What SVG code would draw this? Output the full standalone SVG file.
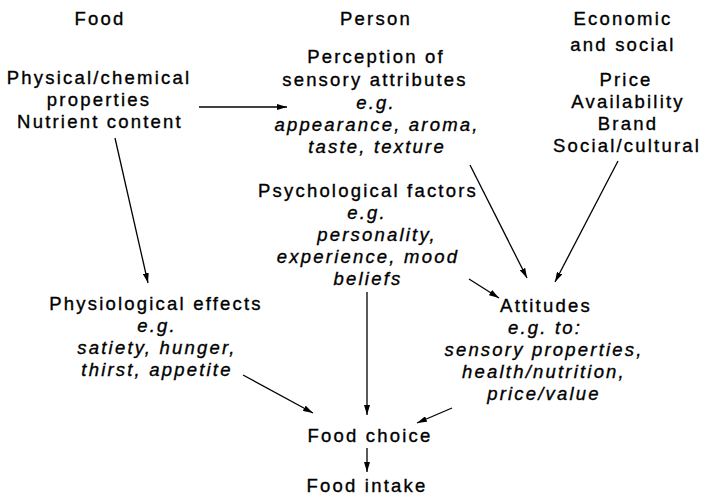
<svg xmlns="http://www.w3.org/2000/svg" width="704" height="497" viewBox="0 0 704 497">
<defs>
<marker id="ah" viewBox="0 0 10 6" refX="10" refY="3" markerWidth="10" markerHeight="6" markerUnits="userSpaceOnUse" orient="auto">
<path d="M0,0 L10,3 L0,6 z" fill="#000"/>
</marker>
<style>
text{font-family:"Liberation Sans",Arial,Helvetica,sans-serif;font-size:18.5px;letter-spacing:2.2px;fill:#000;stroke:#000;stroke-width:0.35px;text-anchor:middle}
.i{font-style:italic}
.c line{stroke:#000;stroke-width:1.3;marker-end:url(#ah)}
</style>
</defs>
<rect width="704" height="497" fill="#fff"/>
<g id="hdr-food"><text x="100" y="25">Food</text></g>
<g id="hdr-person"><text x="376" y="25">Person</text></g>
<g id="hdr-econ"><text x="623" y="25">Economic</text><text x="623" y="51">and social</text></g>
<g id="food-props">
<text x="99" y="84">Physical/chemical</text>
<text x="99" y="106">properties</text>
<text x="100" y="128">Nutrient content</text>
</g>
<g id="perception">
<text x="376" y="63">Perception of</text>
<text x="375" y="86">sensory attributes</text>
<text x="376" y="109" class="i">e.g.</text>
<text x="377" y="131" class="i">appearance, aroma,</text>
<text x="377" y="153" class="i">taste, texture</text>
</g>
<g id="econ-factors">
<text x="626" y="86">Price</text>
<text x="628" y="108">Availability</text>
<text x="628" y="130">Brand</text>
<text x="627" y="152">Social/cultural</text>
</g>
<g id="psych">
<text x="368" y="197">Psychological factors</text>
<text x="367" y="219" class="i">e.g.</text>
<text x="377" y="241" class="i">personality,</text>
<text x="368" y="263" class="i">experience, mood</text>
<text x="368" y="285" class="i">beliefs</text>
</g>
<g id="physio">
<text x="156" y="310">Physiological effects</text>
<text x="157" y="332" class="i">e.g.</text>
<text x="157" y="354" class="i">satiety, hunger,</text>
<text x="157" y="376" class="i">thirst, appetite</text>
</g>
<g id="attitudes">
<text x="546" y="312">Attitudes</text>
<text x="545" y="334" class="i">e.g. to:</text>
<text x="544" y="356" class="i">sensory properties,</text>
<text x="544" y="378" class="i">health/nutrition,</text>
<text x="544" y="400" class="i">price/value</text>
</g>
<g id="choice"><text x="370" y="442">Food choice</text></g>
<g id="intake"><text x="367" y="492">Food intake</text></g>
<g id="connectors" class="c">
<line x1="199" y1="107" x2="287" y2="107"/>
<line x1="115" y1="138" x2="148" y2="283"/>
<line x1="470" y1="165" x2="527" y2="278"/>
<line x1="618" y1="161" x2="555" y2="282"/>
<line x1="469" y1="279" x2="499" y2="298"/>
<line x1="367" y1="292" x2="367" y2="415"/>
<line x1="243" y1="375" x2="313" y2="413"/>
<line x1="452" y1="408" x2="417" y2="423"/>
<line x1="367" y1="448" x2="367" y2="472"/>
</g>
</svg>
